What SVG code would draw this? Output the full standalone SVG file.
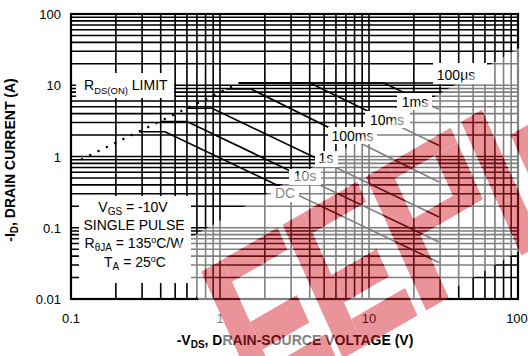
<svg xmlns="http://www.w3.org/2000/svg" width="528" height="356" viewBox="0 0 528 356">
<defs>
<style>
.g{stroke:#000;stroke-width:1.6;fill:none}
.fr{stroke:#000;stroke-width:2.2;fill:none}
.c{stroke:#000;stroke-width:1.6;fill:none}
.dot{stroke:#000;stroke-width:2.2;fill:none;stroke-dasharray:2.2 7}
.bx{fill:#fff}
.t{font-family:"Liberation Sans",Arial,sans-serif;font-size:14px;fill:#000}
.tk{font-family:"Liberation Sans",Arial,sans-serif;font-size:13px;fill:#000}
.ax{font-family:"Liberation Sans",Arial,sans-serif;font-size:14px;font-weight:bold;fill:#000}
</style>
<g id="letters">
<rect x="72" y="336" width="24" height="146"/>
<rect x="96" y="336" width="64" height="24"/>
<rect x="96" y="404" width="54" height="30"/>
<rect x="96" y="452" width="64" height="30"/>
<rect x="166" y="336" width="24" height="146"/>
<rect x="190" y="336" width="62" height="22"/>
<rect x="190" y="404" width="52" height="30"/>
<rect x="190" y="452" width="62" height="30"/>
<rect x="262" y="336" width="26" height="146"/>
<rect x="288" y="336" width="72" height="16"/>
<rect x="334" y="352" width="26" height="44"/>
<rect x="288" y="396" width="72" height="18"/>
<rect x="372" y="336" width="24" height="146"/>
<rect x="412" y="372" width="22" height="84"/>
<rect x="452" y="336" width="24" height="146"/>
<rect x="396" y="456" width="56" height="26"/>
</g>
<mask id="wmMask" maskUnits="userSpaceOnUse" x="-200" y="-200" width="1200" height="1200">
<rect x="-200" y="-200" width="1200" height="1200" fill="#fff"/>
<use href="#letters" fill="#000" transform="skewX(-5.71)"/>
</mask>
</defs>
<rect width="528" height="356" fill="#fff"/>
<g id="grid">
<path class="g" d="M115.85 14V299M142.09 14V299M160.71 14V299M175.15 14V299M186.94 14V299M196.92 14V299M205.56 14V299M213.18 14V299M220 14V299M264.85 14V299M291.09 14V299M309.71 14V299M324.15 14V299M335.94 14V299M345.92 14V299M354.56 14V299M362.18 14V299M369 14V299M413.85 14V299M440.09 14V299M458.71 14V299M473.15 14V299M484.94 14V299M494.92 14V299M503.56 14V299M511.18 14V299"/>
<path class="g" d="M71 17.26H518M71 20.9H518M71 25.04H518M71 29.81H518M71 35.45H518M71 42.35H518M71 51.26H518M71 63.8H518M71 85.25H518M71 88.51H518M71 92.15H518M71 96.29H518M71 101.06H518M71 106.7H518M71 113.6H518M71 122.51H518M71 135.05H518M71 156.5H518M71 159.76H518M71 163.4H518M71 167.54H518M71 172.31H518M71 177.95H518M71 184.85H518M71 193.76H518M71 206.3H518M71 227.75H518M71 231.01H518M71 234.65H518M71 238.79H518M71 243.56H518M71 249.2H518M71 256.1H518M71 265.01H518M71 277.55H518"/>
<rect class="fr" x="71" y="14" width="447" height="285"/>
</g>
<g id="connectors">
<path class="dot" d="M81 159.6L239 83"/>
<path id="c-100us" class="c" d="M239 83H439"/>
<path id="c-1ms" class="c" d="M239 83H384L439 109.3"/>
<path id="c-10ms" class="c" d="M239 83H310L439 145.5"/>
<path id="c-100ms" class="c" d="M226 89H251L439 182"/>
<path id="c-1s" class="c" d="M187 108.3H212L439 217"/>
<path id="c-10s" class="c" d="M160 121.5H187L439 242"/>
<path id="c-dc" class="c" d="M139 131.7H165L439 262.5"/>
</g>
<g id="boxes">
<rect class="bx" x="76" y="73" width="98" height="25"/>
<rect class="bx" x="79" y="196" width="112" height="87"/>
<rect class="bx" x="433" y="63" width="54" height="21"/>
<rect class="bx" x="397" y="93" width="35" height="17"/>
<rect class="bx" x="365" y="111" width="45" height="17"/>
<rect class="bx" x="328" y="127" width="49" height="17"/>
<rect class="bx" x="315" y="151" width="23" height="16"/>
<rect class="bx" x="289" y="169" width="32" height="16"/>
<rect class="bx" x="271" y="186" width="28" height="16"/>
</g>
<g id="label-rds">
<text class="t" x="84" y="90">R<tspan font-size="9.5" dy="4">DS(ON)</tspan><tspan dy="-4"> LIMIT</tspan></text>
</g>
<g id="label-100us"><text class="t" x="456" y="80" text-anchor="middle">100µs</text></g>
<g id="label-1ms"><text class="t" x="415" y="107" text-anchor="middle">1ms</text></g>
<g id="label-10ms"><text class="t" x="387" y="125" text-anchor="middle">10ms</text></g>
<g id="label-100ms"><text class="t" x="352.5" y="141" text-anchor="middle">100ms</text></g>
<g id="label-1s"><text class="t" x="326" y="163" text-anchor="middle">1s</text></g>
<g id="label-10s"><text class="t" x="305" y="181" text-anchor="middle">10s</text></g>
<g id="label-dc"><text class="t" x="285" y="198" text-anchor="middle">DC</text></g>
<g id="legend">
<text class="t" x="133" y="212" text-anchor="middle">V<tspan font-size="10" dy="3">GS</tspan><tspan dy="-3"> = -10V</tspan></text>
<text class="t" x="134" y="230" text-anchor="middle">SINGLE PULSE</text>
<text class="t" x="134" y="248" text-anchor="middle">R<tspan font-size="10" dy="3">θJA</tspan><tspan dy="-3"> = 135</tspan><tspan font-size="9" dy="-5">o</tspan><tspan dy="5">C/W</tspan></text>
<text class="t" x="135" y="267" text-anchor="middle">T<tspan font-size="10" dy="3">A</tspan><tspan dy="-3"> = 25</tspan><tspan font-size="9" dy="-5">o</tspan><tspan dy="5">C</tspan></text>
</g>
<g id="axis-labels">
<text class="tk" x="61" y="19" text-anchor="end">100</text>
<text class="tk" x="61" y="90.25" text-anchor="end">10</text>
<text class="tk" x="61" y="161.5" text-anchor="end">1</text>
<text class="tk" x="61" y="232.75" text-anchor="end">0.1</text>
<text class="tk" x="61" y="304" text-anchor="end">0.01</text>
<text class="tk" x="71" y="323" text-anchor="middle">0.1</text>
<text class="tk" x="220" y="323" text-anchor="middle">1</text>
<text class="tk" x="369" y="323" text-anchor="middle">10</text>
<text class="tk" x="517" y="323" text-anchor="middle">100</text>
<text class="ax" transform="translate(15,160) rotate(-90)" text-anchor="middle">-I<tspan font-size="10" dy="3">D</tspan><tspan dy="-3">, DRAIN CURRENT (A)</tspan></text>
<text class="ax" x="295" y="345" text-anchor="middle">-V<tspan font-size="10" dy="3">DS</tspan><tspan dy="-3">, DRAIN-SOURCE VOLTAGE (V)</tspan></text>
</g>
<g id="watermark">
<g transform="rotate(-30)">
<rect x="22" y="301" width="560" height="176" fill="#fff" fill-opacity="0.5" mask="url(#wmMask)"/>
</g>
<g transform="rotate(-30) skewX(-5.71)">
<use href="#letters" fill="#d4202c" opacity="0.48"/>
</g>
</g>
</svg>
